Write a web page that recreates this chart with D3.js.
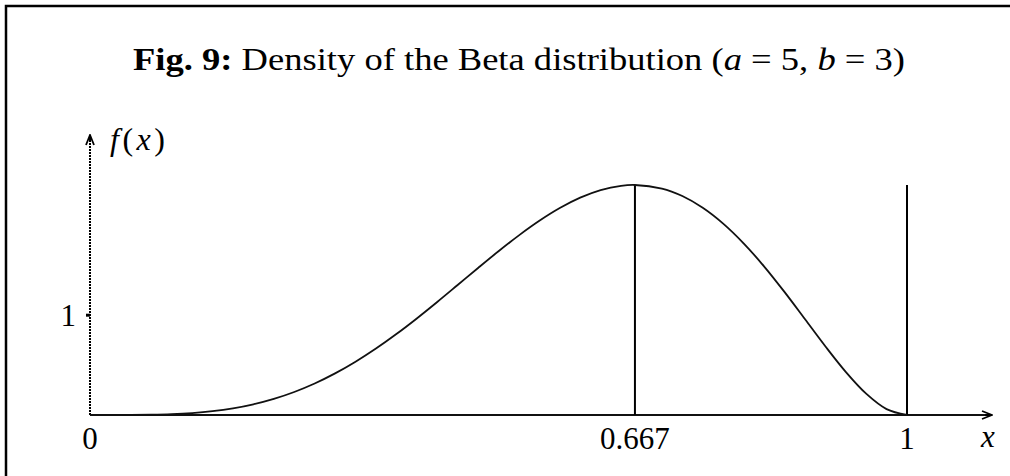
<!DOCTYPE html>
<html>
<head>
<meta charset="utf-8">
<script src="https://cdn.jsdelivr.net/npm/d3@7"></script>
<style>
  html, body { margin: 0; padding: 0; background: #fff; }
  svg { display: block; }
  text { font-family: "Liberation Serif", "DejaVu Serif", serif; fill: #000; }
</style>
</head>
<body>
<svg id="chart" width="1010" height="476"></svg>
<script>
// Beta(5, 3) density sampled along x
const xValues = [0, 0.025, 0.05, 0.075, 0.1, 0.125, 0.15, 0.175, 0.2, 0.225, 0.25, 0.275, 0.3, 0.325, 0.35, 0.375, 0.4, 0.425, 0.45, 0.475, 0.5, 0.525, 0.55, 0.575, 0.6, 0.625, 0.65, 0.667, 0.7, 0.725, 0.75, 0.775, 0.8, 0.825, 0.85, 0.875, 0.9, 0.925, 0.95, 0.975, 1];
const densityValues = [0, 0.00004, 0.0006, 0.0028, 0.0085, 0.0196, 0.0384, 0.0670, 0.1075, 0.1616, 0.2307, 0.3156, 0.4167, 0.5337, 0.6657, 0.8111, 0.9677, 1.1326, 1.3025, 1.4733, 1.6406, 1.7998, 1.9456, 2.0732, 2.1773, 2.2531, 2.2960, 2.3045, 2.2689, 2.1939, 2.0764, 1.9176, 1.7203, 1.4897, 1.2332, 0.9617, 0.6889, 0.4324, 0.2138, 0.0593, 0];

// Vertical markers: the mode and the right end of the support
const markerX = [0.667, 1];
const markerHeight = 2.3045;

// Tick labels
const xTickValues = [0, 0.667, 1];
const xTickLabels = ["0", "0.667", "1"];
const yTickValues = [1];
const yTickLabels = ["1"];

const svg = d3.select("#chart");

const x = d3.scaleLinear().domain([0, 1]).range([90, 907]);
const y = d3.scaleLinear().domain([0, markerHeight]).range([415, 185]);

// Frame (top and left edges)
svg.append("path")
  .attr("d", "M6,476 L6,6 L1010,6")
  .attr("fill", "none")
  .attr("stroke", "#000")
  .attr("stroke-width", 2.5);

// Title
const title = svg.append("text")
  .attr("x", 133)
  .attr("y", 70)
  .attr("font-size", 32)
  .attr("textLength", 772)
  .attr("lengthAdjust", "spacingAndGlyphs");
title.append("tspan").attr("font-weight", "bold").text("Fig.  9:");
title.append("tspan").text(" Density of the Beta distribution (");
title.append("tspan").attr("font-style", "italic").text("a");
title.append("tspan").text(" = 5,  ");
title.append("tspan").attr("font-style", "italic").text("b");
title.append("tspan").text(" = 3)");

// Arrow marker
svg.append("defs").append("marker")
  .attr("id", "arrow")
  .attr("viewBox", "0 0 12 10")
  .attr("refX", 11)
  .attr("refY", 5)
  .attr("markerWidth", 12)
  .attr("markerHeight", 10)
  .attr("markerUnits", "userSpaceOnUse")
  .attr("orient", "auto")
  .append("path")
  .attr("d", "M1,1 L11,5 L1,9 M11,5 L4,5")
  .attr("fill", "none")
  .attr("stroke", "#000")
  .attr("stroke-width", 1.8);

// y axis (dotted) with arrow
svg.append("line")
  .attr("x1", x(0)).attr("y1", y(0))
  .attr("x2", x(0)).attr("y2", 135)
  .attr("stroke", "#000")
  .attr("stroke-width", 2)
  .attr("stroke-dasharray", "2,1")
  .attr("marker-end", "url(#arrow)");

// x axis with arrow
svg.append("line")
  .attr("x1", x(0)).attr("y1", y(0))
  .attr("x2", 992).attr("y2", y(0))
  .attr("stroke", "#111")
  .attr("stroke-width", 2)
  .attr("marker-end", "url(#arrow)");

// y ticks
svg.selectAll(".ytick")
  .data(yTickValues)
  .join("rect")
  .attr("class", "ytick")
  .attr("x", x(0) - 4)
  .attr("y", d => y(d) - 1.5)
  .attr("width", 4)
  .attr("height", 3)
  .attr("fill", "#000");

svg.selectAll(".ylabel")
  .data(yTickValues)
  .join("text")
  .attr("class", "ylabel")
  .attr("x", x(0) - 14)
  .attr("y", d => y(d) + 11)
  .attr("text-anchor", "end")
  .attr("font-size", 31)
  .text((d, i) => yTickLabels[i]);

// x tick labels
svg.selectAll(".xlabel")
  .data(xTickValues)
  .join("text")
  .attr("class", "xlabel")
  .attr("x", d => x(d))
  .attr("y", 449)
  .attr("text-anchor", "middle")
  .attr("font-size", 31)
  .text((d, i) => xTickLabels[i]);

// Axis names
const fx = svg.append("text")
  .attr("x", 110)
  .attr("y", 150)
  .attr("font-size", 32)
  .attr("textLength", 55)
  .attr("lengthAdjust", "spacing");
fx.append("tspan").attr("font-style", "italic").text("f");
fx.append("tspan").text("(");
fx.append("tspan").attr("font-style", "italic").text("x");
fx.append("tspan").text(")");

svg.append("text")
  .attr("x", 988)
  .attr("y", 447)
  .attr("text-anchor", "middle")
  .attr("font-size", 31)
  .attr("font-style", "italic")
  .text("x");

// Vertical markers
svg.selectAll(".marker")
  .data(markerX)
  .join("line")
  .attr("class", "marker")
  .attr("x1", d => x(d)).attr("x2", d => x(d))
  .attr("y1", y(0)).attr("y2", y(markerHeight))
  .attr("stroke", "#000")
  .attr("stroke-width", 2);

// Density curve
const line = d3.line()
  .x((d, i) => x(xValues[i]))
  .y(d => y(d))
  .curve(d3.curveCatmullRom.alpha(0.5));

svg.append("path")
  .datum(densityValues)
  .attr("d", line)
  .attr("fill", "none")
  .attr("stroke", "#111")
  .attr("stroke-width", 1.8);
</script>
</body>
</html>
